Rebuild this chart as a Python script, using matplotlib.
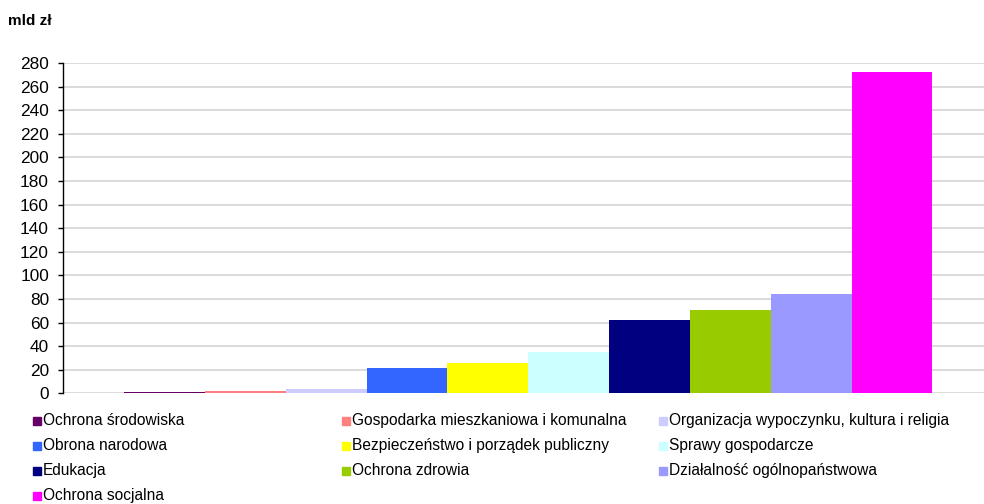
import matplotlib
matplotlib.use("Agg")
import matplotlib.pyplot as plt
from matplotlib.patches import Rectangle

plt.rcParams['font.family'] = ['Liberation Sans', 'DejaVu Sans']

# wydatki wg funkcji, mld zl
labels = ['Ochrona środowiska', 'Gospodarka mieszkaniowa i komunalna',
          'Organizacja wypoczynku, kultura i religia', 'Obrona narodowa',
          'Bezpieczeństwo i porządek publiczny', 'Sprawy gospodarcze',
          'Edukacja', 'Ochrona zdrowia', 'Działalność ogólnopaństwowa',
          'Ochrona socjalna']
values = [1.4, 2.2, 3.4, 21.4, 25.4, 35.3, 62.2, 70.9, 84.2, 272.4]
colors = ['#660066', '#FF8080', '#CCCCFF', '#3366FF', '#FFFF00',
          '#CCFFFF', '#000080', '#99CC00', '#9999FF', '#FF00FF']
yticks = list(range(0, 281, 20))

W, H = 984, 504
fig = plt.figure(figsize=(W / 100, H / 100), dpi=100)
ax = fig.add_axes([63 / W, 1 - 393.3 / H, 1 - 63 / W, (393.3 - 63) / H])

for i in range(len(values)):
    ax.bar(i, values[i], width=1.0, color=colors[i], label=labels[i], zorder=3)

ax.set_xlim(-1.254, 10.137)
ax.set_ylim(0, 280)
ax.set_yticks(yticks)
ax.set_xticks([])
ax.yaxis.grid(True, color='#d4d4d4', linewidth=1.2, zorder=0)
for s in ['top', 'right', 'bottom']:
    ax.spines[s].set_visible(False)
ax.spines['left'].set_linewidth(1.0)
ax.tick_params(axis='y', length=3.6, width=1.0, pad=6.5, labelsize=12.4)

fig.text(8 / W, 1 - 21 / H, 'mld zł', fontsize=11, fontweight='bold', va='center')

# legenda recznie: 3 kolumny
col_x = [33, 342, 659]
row_y = [421, 446, 471, 496]
for i, lab in enumerate(labels):
    cx = col_x[i % 3]
    cy = row_y[i // 3]
    fig.patches.append(Rectangle((cx / W, 1 - (cy + 4) / H), 8 / W, 8 / H,
                                 transform=fig.transFigure, color=colors[i]))
    fig.text((cx + 10) / W, 1 - (cy - 2) / H, lab, fontsize=11.2,
             va='center_baseline')

fig.savefig('out.png', dpi=100)
